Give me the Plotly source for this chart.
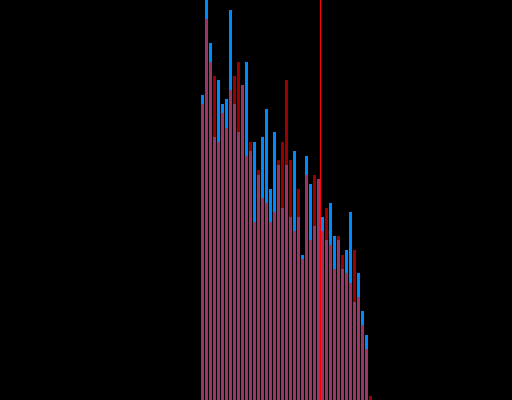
import plotly.graph_objects as go

# bin index of each bar
bins = list(range(43))
# bar heights
blue_vals = [305, 400, 357, 263, 320, 296, 301, 390, 296, 268,
             315, 338, 249, 258, 225, 263, 291, 211, 268, 235,
             192, 235, 183, 249, 183, 145, 244, 216, 174, 221,
             183, 160, 197, 164, 160, 131, 150, 188, 98, 127,
             89, 65, 0]
red_vals = [296, 381, 338, 324, 258, 287, 272, 310, 324, 338,
            315, 244, 258, 178, 230, 202, 197, 178, 188, 240,
            258, 320, 240, 169, 211, 141, 225, 160, 225, 221,
            169, 192, 155, 131, 164, 145, 127, 117, 150, 103,
            75, 51, 4]
threshold = 29.5

fig = go.Figure()
fig.add_trace(go.Bar(x=bins, y=blue_vals, width=0.75,
                     marker=dict(color="#0088ff", line=dict(width=0))))
fig.add_trace(go.Bar(x=bins, y=red_vals, width=0.75,
                     marker=dict(color="rgba(255,0,0,0.6)", line=dict(width=0))))
fig.add_shape(type="line", x0=threshold, x1=threshold, y0=0, y1=1, yref="paper",
              line=dict(color="#ff0000", width=1), layer="above")

fig.update_layout(
    width=512, height=400,
    margin=dict(l=0, r=0, t=0, b=0),
    barmode="overlay",
    showlegend=False,
    paper_bgcolor="#000000",
    plot_bgcolor="#000000",
    xaxis=dict(range=[-50.625, 77.375], visible=False),
    yaxis=dict(range=[0, 400], visible=False),
)
fig.write_html(
    "out.html",
    config={"displayModeBar": False},
    post_script="document.body.style.margin='0';document.body.style.background='#000';document.body.style.overflow='hidden';",
)
